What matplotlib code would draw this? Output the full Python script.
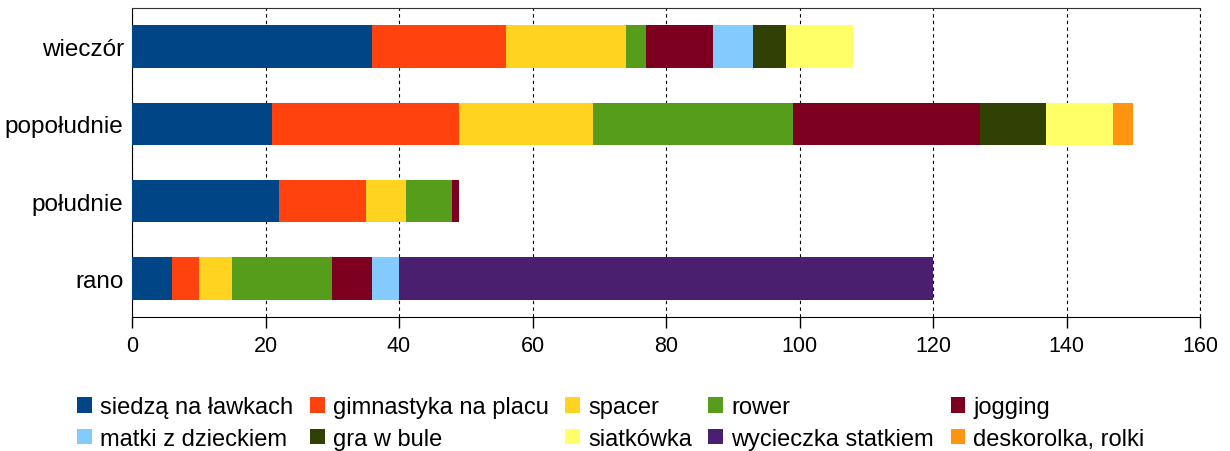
import matplotlib
matplotlib.use('Agg')
import matplotlib.pyplot as plt
from matplotlib.patches import Patch

plt.rcParams['font.family'] = ['Liberation Sans', 'DejaVu Sans']

# times of day (bottom to top)
times = ['rano', 'południe', 'popołudnie', 'wieczór']

activities = ['siedzą na ławkach', 'gimnastyka na placu', 'spacer', 'rower', 'jogging',
              'matki z dzieckiem', 'gra w bule', 'siatkówka', 'wycieczka statkiem',
              'deskorolka, rolki']
colors = ['#004586', '#ff420e', '#ffd320', '#579d1c', '#7e0021',
          '#83caff', '#314004', '#ffff66', '#4b1f6f', '#ff950e']

# values per activity, in order of times
siedza = [6, 22, 21, 36]
gimnastyka = [4, 13, 28, 20]
spacer = [5, 6, 20, 18]
rower = [15, 7, 30, 3]
jogging = [6, 1, 28, 10]
matki = [4, 0, 0, 6]
bule = [0, 0, 10, 5]
siatkowka = [0, 0, 10, 10]
statek = [80, 0, 0, 0]
deskorolka = [0, 0, 3, 0]
series = [siedza, gimnastyka, spacer, rower, jogging, matki, bule, siatkowka, statek, deskorolka]

fig = plt.figure(figsize=(12.3, 4.52), dpi=100)
ax = fig.add_axes([132/1230, 1-318/452, 1068/1230, 309/452])

left = [0] * len(times)
for vals, name, c in zip(series, activities, colors):
    ax.barh(range(len(times)), vals, left=left, height=0.55, color=c, label=name, zorder=3)
    left = [l + v for l, v in zip(left, vals)]

ax.set_xlim(0, 160)
ax.set_ylim(-0.5, len(times) - 0.5)
ax.set_xticks(range(0, 161, 20))
ax.set_yticks(range(len(times)))
ax.set_yticklabels(times)
ax.tick_params(axis='x', direction='out', length=8, width=1, labelsize=15.5, pad=5)
ax.tick_params(axis='y', length=0, labelsize=17.5, pad=6)
ax.xaxis.grid(True, linestyle=(0, (3, 3)), color='black', linewidth=0.8, zorder=0)
# last grid line sits on the right edge
ax.axvline(160, linestyle=(0, (3, 3)), color='black', linewidth=0.8, clip_on=False)
ax.spines['right'].set_visible(False)
ax.spines['top'].set_color('#333333')
for s in ['left', 'bottom']:
    ax.spines[s].set_color('black')

# legend is filled row by row in the reference, matplotlib fills by column
order = [0, 5, 1, 6, 2, 7, 3, 8, 4, 9]
handles = [Patch(facecolor=colors[i], edgecolor='none') for i in order]
labels = [activities[i] for i in order]
fig.legend(handles, labels, ncol=5, loc='center', bbox_to_anchor=(611/1230, 1-424/452),
           frameon=False, fontsize=17, handlelength=0.62, handleheight=0.62,
           handletextpad=0.35, columnspacing=0.7, labelspacing=0.4)

plt.savefig('out.png', dpi=100)
